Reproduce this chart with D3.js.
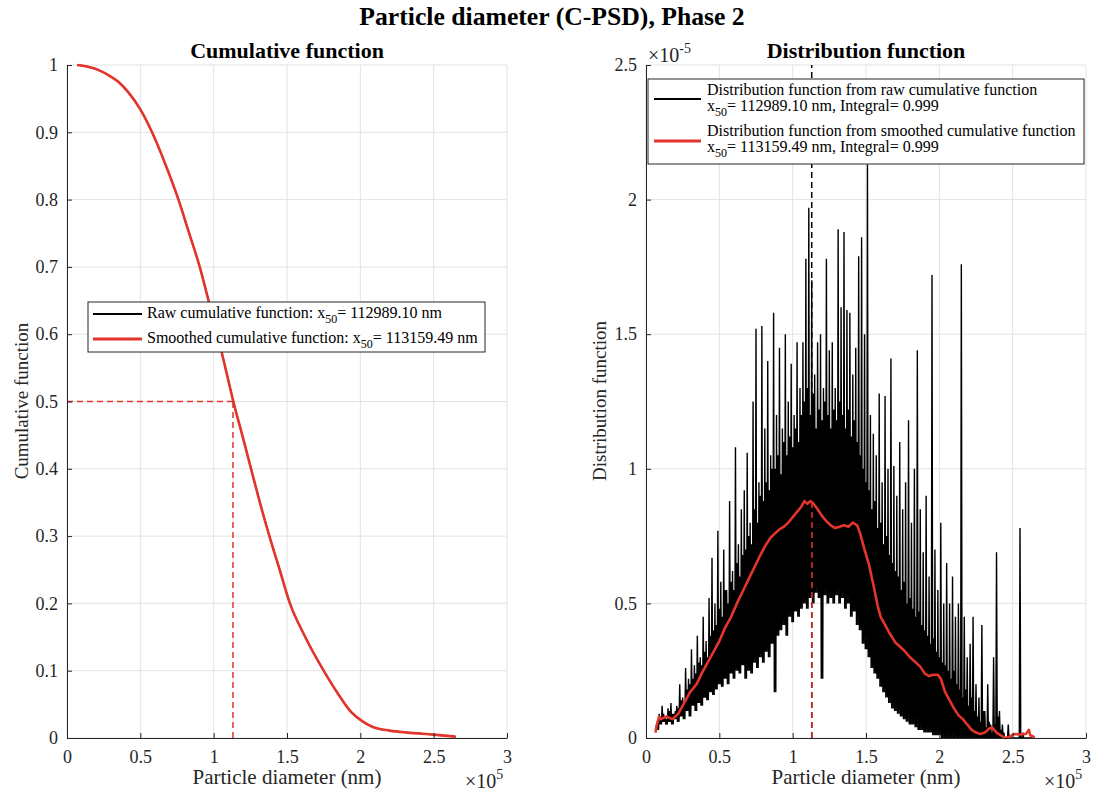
<!DOCTYPE html>
<html>
<head>
<meta charset="utf-8">
<script src="https://d3js.org/d3.v7.min.js"></script>
<style>
  body { margin: 0; background: #fff; }
  text { font-family: "Liberation Serif", "Times New Roman", serif; }
</style>
</head>
<body>
<div id="chart"></div>
<script>
// x in units of 1e5 nm, distribution y in units of 1e-5
var xTicks = [0, 0.5, 1, 1.5, 2, 2.5, 3];
var cumTicks = [0, 0.1, 0.2, 0.3, 0.4, 0.5, 0.6, 0.7, 0.8, 0.9, 1];
var distTicks = [0, 0.5, 1, 1.5, 2, 2.5];

// cumulative function (raw and smoothed overlap)
var cumX = [0.07, 0.15, 0.22, 0.29, 0.35, 0.42, 0.50, 0.58, 0.67, 0.76, 0.83, 0.905, 0.965, 1.025, 1.08, 1.134, 1.195,
  1.255, 1.315, 1.38, 1.45, 1.52, 1.62, 1.75, 1.85, 1.94, 2.02, 2.09, 2.20, 2.32, 2.50, 2.65];
var cumY = [1.0, 0.997, 0.992, 0.984, 0.975, 0.959, 0.934, 0.90, 0.853, 0.80, 0.752, 0.70, 0.65, 0.60, 0.55, 0.50, 0.45,
  0.40, 0.35, 0.30, 0.25, 0.20, 0.152, 0.10, 0.065, 0.038, 0.024, 0.016, 0.011, 0.008, 0.005, 0.002];

// smoothed distribution function
var smoothX = [0.065, 0.07, 0.08, 0.09, 0.10, 0.12, 0.14, 0.16, 0.18, 0.20, 0.22, 0.24, 0.27, 0.30, 0.345, 0.38, 0.42, 0.46, 0.50, 0.54,
  0.58, 0.62, 0.66, 0.70, 0.74, 0.78, 0.82, 0.85, 0.88, 0.91, 0.94, 0.97, 1.00, 1.03, 1.06, 1.08, 1.10, 1.12, 1.14, 1.17,
  1.20, 1.23, 1.26, 1.29, 1.32, 1.35, 1.38, 1.41, 1.44, 1.46, 1.49, 1.52, 1.55, 1.58, 1.60, 1.63, 1.66, 1.70, 1.73, 1.76,
  1.80, 1.84, 1.87, 1.90, 1.93, 1.96, 1.99, 2.01, 2.04, 2.07, 2.10, 2.13, 2.16, 2.19, 2.22, 2.25, 2.28, 2.31, 2.34, 2.36,
  2.39, 2.42, 2.45, 2.48, 2.51, 2.55, 2.59, 2.61, 2.62, 2.65];
var smoothY = [0.02, 0.04, 0.06, 0.08, 0.07, 0.075, 0.08, 0.075, 0.07, 0.08, 0.09, 0.11, 0.14, 0.17, 0.20, 0.24, 0.28, 0.32, 0.36, 0.41,
  0.45, 0.50, 0.545, 0.59, 0.635, 0.68, 0.72, 0.745, 0.76, 0.775, 0.785, 0.80, 0.82, 0.84, 0.86, 0.88, 0.87, 0.88, 0.872, 0.85,
  0.825, 0.805, 0.79, 0.78, 0.785, 0.79, 0.785, 0.80, 0.79, 0.76, 0.70, 0.645, 0.57, 0.49, 0.45, 0.42, 0.39, 0.355, 0.34, 0.325,
  0.30, 0.28, 0.265, 0.24, 0.23, 0.235, 0.235, 0.22, 0.17, 0.14, 0.11, 0.085, 0.07, 0.05, 0.03, 0.02, 0.015, 0.02, 0.035, 0.04,
  0.02, 0.01, 0.0, 0.005, 0.015, 0.013, 0.015, 0.03, 0.01, 0.003];

// raw distribution: tall peaks every 0.02 from 0.07, medium peaks in between, troughs around both
var rawStart = 0.07, rawStep = 0.02;
var rawPeaks = [
  0.05, 0.09, 0.12, 0.08, 0.11, 0.13, 0.09, 0.12, 0.20, 0.15,
  0.26, 0.22, 0.33, 0.27, 0.38, 0.30, 0.45, 0.36, 0.52, 0.67,
  0.50, 0.77, 0.58, 0.70, 0.55, 0.88, 0.62, 1.08, 0.72, 0.85,
  0.92, 1.06, 0.80, 1.25, 1.52, 0.95, 1.53, 1.15, 1.40, 1.05,
  1.58, 1.20, 1.45, 1.15, 1.50, 1.25, 1.39, 1.20, 1.47, 1.30,
  1.47, 1.78, 1.97, 1.70, 1.35, 1.47, 1.50, 1.30, 1.78, 1.44,
  1.47, 1.30, 1.89, 1.60, 1.88, 1.59, 1.58, 1.35, 1.45, 1.79,
  1.86, 1.50, 2.13, 1.20, 1.13, 1.05, 1.28, 0.95, 1.27, 1.00,
  1.41, 1.01, 0.90, 1.10, 0.85, 0.95, 1.18, 0.80, 1.00, 1.44,
  0.85, 0.69, 0.90, 0.60, 1.72, 0.70, 0.55, 0.80, 0.50, 0.65,
  0.50, 0.60, 0.45, 0.50, 1.76, 0.45, 0.30, 0.35, 0.45, 0.20,
  0.15, 0.42, 0.10, 0.20, 0.05, 0.30, 0.69, 0.10, 0.05, 0.00,
  0.05, 0.00, 0.00, 0.00, 0.78, 0.02, 0.00, 0.00, 0.00, 0.00];
var rawMid = [
  0.07, 0.08, 0.09, 0.07, 0.10, 0.09, 0.10, 0.11, 0.14, 0.13,
  0.18, 0.20, 0.22, 0.24, 0.28, 0.27, 0.32, 0.30, 0.38, 0.40,
  0.42, 0.48, 0.45, 0.55, 0.50, 0.58, 0.55, 0.65, 0.60, 0.68,
  0.70, 0.75, 0.72, 0.85, 0.80, 0.90, 0.88, 0.95, 0.92, 1.00,
  1.00, 1.05, 0.98, 1.10, 1.05, 1.12, 1.08, 1.15, 1.10, 1.20,
  1.25, 1.30, 1.20, 1.28, 1.15, 1.22, 1.18, 1.25, 1.20, 1.15,
  1.22, 1.18, 1.25, 1.20, 1.15, 1.22, 1.12, 1.18, 1.10, 1.05,
  1.00, 0.95, 0.92, 0.85, 0.88, 0.78, 0.80, 0.72, 0.75, 0.68,
  0.65, 0.62, 0.60, 0.55, 0.58, 0.50, 0.52, 0.48, 0.45, 0.47,
  0.42, 0.40, 0.38, 0.35, 0.37, 0.32, 0.30, 0.28, 0.27, 0.25,
  0.22, 0.25, 0.20, 0.18, 0.15, 0.18, 0.12, 0.15, 0.10, 0.08,
  0.06, 0.10, 0.04, 0.06, 0.02, 0.05, 0.08, 0.03, 0.02, 0.00,
  0.00, 0.00, 0.00, 0.00, 0.00, 0.00, 0.00, 0.00, 0.00];
var rawTroughs = [
  0.03, 0.05, 0.06, 0.05, 0.06, 0.05, 0.07, 0.06, 0.08, 0.07,
  0.10, 0.08, 0.12, 0.10, 0.13, 0.12, 0.15, 0.14, 0.17, 0.16,
  0.18, 0.20, 0.19, 0.22, 0.20, 0.24, 0.22, 0.25, 0.24, 0.27,
  0.22, 0.25, 0.24, 0.28, 0.26, 0.30, 0.28, 0.32, 0.30, 0.35,
  0.17, 0.38, 0.40, 0.42, 0.38, 0.45, 0.43, 0.47, 0.45, 0.48,
  0.50, 0.48, 0.52, 0.50, 0.54, 0.52, 0.22, 0.53, 0.50, 0.52,
  0.50, 0.53, 0.50, 0.52, 0.48, 0.50, 0.45, 0.47, 0.42, 0.40,
  0.35, 0.33, 0.30, 0.26, 0.24, 0.22, 0.19, 0.17, 0.15, 0.13,
  0.11, 0.10, 0.09, 0.08, 0.07, 0.06, 0.05, 0.05, 0.04, 0.03,
  0.03, 0.02, 0.02, 0.02, 0.01, 0.01, 0.01, 0.00, 0.00, 0.00,
  0.00, 0.00, 0.00, 0.00, 0.00, 0.00, 0.00, 0.00, 0.00, 0.00,
  0.00, 0.00, 0.00, 0.00, 0.00, 0.00, 0.00, 0.00, 0.00, 0.00,
  0.00, 0.00, 0.00, 0.00, 0.00, 0.00, 0.00, 0.00, 0.00];

var x50raw = 1.1298910, x50smooth = 1.1315949;
var x50smoothDist = 0.875;

var red = "#e3352b", axisCol = "#262626", gridCol = "#e3e3e3";
var W = 1093, H = 793;

var svg = d3.select("#chart").append("svg")
  .attr("width", W).attr("height", H);

var top0 = 65, bot0 = 738;
var xL = d3.scaleLinear().domain([0, 3]).range([67, 507]);
var yL = d3.scaleLinear().domain([0, 1]).range([bot0, top0]);
var xR = d3.scaleLinear().domain([0, 3]).range([646, 1086]);
var yR = d3.scaleLinear().domain([0, 2.5]).range([bot0, top0]);

function fmt(d) { return String(+d.toFixed(1)); }

function grid(x, y, yt) {
  var g = svg.append("g");
  g.selectAll(null).data(xTicks).enter().append("line")
    .attr("x1", function(d) { return x(d); }).attr("x2", function(d) { return x(d); })
    .attr("y1", bot0).attr("y2", top0)
    .attr("stroke", gridCol).attr("stroke-width", 1);
  g.selectAll(null).data(yt).enter().append("line")
    .attr("y1", function(d) { return y(d); }).attr("y2", function(d) { return y(d); })
    .attr("x1", x.range()[0]).attr("x2", x.range()[1])
    .attr("stroke", gridCol).attr("stroke-width", 1);
}

function axes(x, y, yt) {
  var gx = svg.append("g").attr("transform", "translate(0," + bot0 + ")")
    .call(d3.axisBottom(x).tickValues(xTicks).tickSize(-5).tickSizeOuter(0).tickPadding(12).tickFormat(fmt));
  var gy = svg.append("g").attr("transform", "translate(" + x.range()[0] + ",0)")
    .call(d3.axisLeft(y).tickValues(yt).tickSize(-5).tickSizeOuter(0).tickPadding(9).tickFormat(fmt));
  [gx, gy].forEach(function(g) {
    g.select(".domain").attr("stroke", axisCol);
    g.selectAll(".tick line").attr("stroke", axisCol);
    g.selectAll(".tick text").attr("fill", axisCol)
      .style("font-size", "18px").style("font-family", "'Liberation Serif', serif");
  });
}

function label(text, x, y, size, bold, anchor, rot) {
  var t = svg.append("text").attr("x", x).attr("y", y)
    .attr("text-anchor", anchor || "middle")
    .style("font-size", size + "px").attr("fill", bold ? "#000" : axisCol)
    .style("font-weight", bold ? "bold" : "normal")
    .text(text);
  if (rot) t.attr("transform", "rotate(-90," + x + "," + y + ")");
  return t;
}

function power(x, y, exp) {
  var t = svg.append("text").attr("x", x).attr("y", y).attr("fill", axisCol).style("font-size", "20px");
  t.append("tspan").text("\u00d710");
  t.append("tspan").attr("dy", -9).style("font-size", "14px").text(exp);
}

// ---------- left: cumulative ----------
grid(xL, yL, cumTicks);

var lineCum = d3.line()
  .x(function(d, i) { return xL(cumX[i]); })
  .y(function(d) { return yL(d); })
  .curve(d3.curveMonotoneX);

svg.append("path").datum(cumY).attr("d", lineCum)
  .attr("fill", "none").attr("stroke", "#000").attr("stroke-width", 1.5);
svg.append("path").datum(cumY).attr("d", lineCum)
  .attr("fill", "none").attr("stroke", red).attr("stroke-width", 2.6);

svg.append("line")
  .attr("x1", xL(0)).attr("x2", xL(x50smooth)).attr("y1", yL(0.5)).attr("y2", yL(0.5))
  .attr("stroke", red).attr("stroke-width", 1.5).attr("stroke-dasharray", "6,4");
svg.append("line")
  .attr("x1", xL(x50smooth)).attr("x2", xL(x50smooth)).attr("y1", yL(0)).attr("y2", yL(0.5))
  .attr("stroke", red).attr("stroke-width", 1.5).attr("stroke-dasharray", "6,4");

axes(xL, yL, cumTicks);

// ---------- right: distribution ----------
grid(xR, yR, distTicks);

var rawPts = [];
rawPeaks.forEach(function(p, i) {
  var xx = rawStart + i * rawStep;
  rawPts.push([xx, p]);
  if (i < rawTroughs.length) {
    rawPts.push([xx + rawStep * 0.25, rawTroughs[i]]);
    rawPts.push([xx + rawStep * 0.5, rawMid[i]]);
    rawPts.push([xx + rawStep * 0.75, rawTroughs[i]]);
  }
});

svg.append("path").datum(rawPts)
  .attr("d", d3.line().x(function(d) { return xR(d[0]); }).y(function(d) { return yR(d[1]); }))
  .attr("fill", "none").attr("stroke", "#000").attr("stroke-width", 1.4).attr("stroke-linejoin", "bevel");

svg.append("line")
  .attr("x1", xR(x50raw)).attr("x2", xR(x50raw)).attr("y1", yR(0)).attr("y2", yR(2.5))
  .attr("stroke", "#000").attr("stroke-width", 1.5).attr("stroke-dasharray", "6,4");

svg.append("path").datum(smoothY)
  .attr("d", d3.line().x(function(d, i) { return xR(smoothX[i]); }).y(function(d) { return yR(d); }))
  .attr("fill", "none").attr("stroke", red).attr("stroke-width", 2.6).attr("stroke-linejoin", "round");

svg.append("line")
  .attr("x1", xR(x50smooth)).attr("x2", xR(x50smooth)).attr("y1", yR(0)).attr("y2", yR(x50smoothDist))
  .attr("stroke", red).attr("stroke-width", 1.5).attr("stroke-dasharray", "6,4");

axes(xR, yR, distTicks);

// ---------- texts ----------
label("Particle diameter (C-PSD), Phase 2", 552, 25, 25.7, true);
label("Cumulative function", 287, 58, 22, true);
label("Distribution function", 866, 58, 22, true);
label("Particle diameter (nm)", 287, 784, 21);
label("Particle diameter (nm)", 866, 784, 21);
label("Cumulative function", 28, 401, 19, false, "middle", true);
label("Distribution function", 606, 401, 19, false, "middle", true);
power(465, 788, "5");
power(1044, 788, "5");
power(648, 62, "-5");

// ---------- legends ----------
function legendEntry(g, x, y, parts) {
  var t = g.append("text").attr("x", x).attr("y", y).attr("fill", "#000").style("font-size", "16px");
  parts.forEach(function(p) {
    if (p.sub) {
      t.append("tspan").attr("dy", 5).style("font-size", "12px").text(p.sub);
      t.append("tspan").attr("dy", -5).text(p.after);
    } else {
      t.append("tspan").text(p.text);
    }
  });
}

var lg = svg.append("g");
lg.append("rect").attr("x", 88).attr("y", 302).attr("width", 397).attr("height", 50)
  .attr("fill", "#fff").attr("stroke", axisCol).attr("stroke-width", 1);
lg.append("line").attr("x1", 93).attr("x2", 142).attr("y1", 314).attr("y2", 314)
  .attr("stroke", "#000").attr("stroke-width", 2);
lg.append("line").attr("x1", 93).attr("x2", 142).attr("y1", 339).attr("y2", 339)
  .attr("stroke", red).attr("stroke-width", 3);
legendEntry(lg, 147, 318, [{text: "Raw cumulative function: x"}, {sub: "50", after: "= 112989.10 nm"}]);
legendEntry(lg, 147, 343, [{text: "Smoothed cumulative function: x"}, {sub: "50", after: "= 113159.49 nm"}]);

var rg = svg.append("g");
rg.append("rect").attr("x", 648).attr("y", 79).attr("width", 436).attr("height", 85)
  .attr("fill", "#fff").attr("stroke", axisCol).attr("stroke-width", 1);
rg.append("line").attr("x1", 654).attr("x2", 701).attr("y1", 99).attr("y2", 99)
  .attr("stroke", "#000").attr("stroke-width", 2);
rg.append("line").attr("x1", 654).attr("x2", 701).attr("y1", 141).attr("y2", 141)
  .attr("stroke", red).attr("stroke-width", 3);
legendEntry(rg, 707, 95, [{text: "Distribution function from raw cumulative function"}]);
legendEntry(rg, 707, 111, [{text: "x"}, {sub: "50", after: "= 112989.10 nm, Integral= 0.999"}]);
legendEntry(rg, 707, 136, [{text: "Distribution function from smoothed cumulative function"}]);
legendEntry(rg, 707, 152, [{text: "x"}, {sub: "50", after: "= 113159.49 nm, Integral= 0.999"}]);
</script>
</body>
</html>
